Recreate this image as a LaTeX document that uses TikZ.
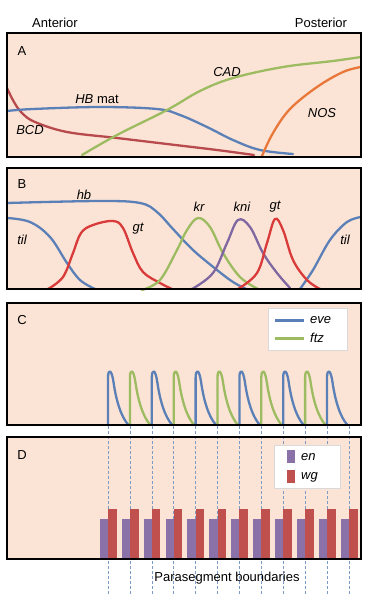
\documentclass[tikz,border=0pt]{standalone}
\usepackage{fontspec}
\setmainfont{Liberation Sans}
\usetikzlibrary{shadows}
\definecolor{peach}{HTML}{FBE4D5}
\definecolor{cblue}{HTML}{5B80B8}
\definecolor{cgreen}{HTML}{9DBB61}
\definecolor{cred}{HTML}{D93A3A}
\definecolor{cdred}{HTML}{B84A4D}
\definecolor{cpurple}{HTML}{7F67A2}
\definecolor{corange}{HTML}{E9773A}
\definecolor{barpurple}{HTML}{8A71A8}
\definecolor{barred}{HTML}{C0504D}
\tikzset{
  panel/.style={draw=black, line width=2pt},
  curve/.style={line width=2.3pt, line cap=round},
  lbl/.style={font=\fontsize{13}{15}\selectfont\itshape, inner sep=0pt},
  plbl/.style={font=\fontsize{13}{15}\selectfont, inner sep=0pt},
  leg/.style={fill=white, draw=white!85!black, line width=0.3pt, drop shadow={shadow xshift=1pt, shadow yshift=-1pt, opacity=0.3}},
  bnd/.style={cblue!80!white, line width=0.6pt, dash pattern=on 3pt off 2pt},
}
\begin{document}
\begin{tikzpicture}[x=1pt, y=-1pt]
\useasboundingbox (0,0) rectangle (370,600);
\fill[white] (0,0) rectangle (370,600);
% titles
\node[plbl] (ant) at (55,23) {Anterior};
\node[plbl] (post) at (321,23) {Posterior};

% ---------- Panel A
\fill[peach] (7,33) rectangle (361,157);
\draw[curve, cdred] plot[smooth, tension=0.6] coordinates {(7,88) (14,102) (22,113) (35,122) (67,132) (117,138) (167,144) (217,150) (254,155)};
\draw[curve, cblue] plot[smooth, tension=0.6] coordinates {(7,111) (33,109) (100,107) (157,109) (180,115) (207,127) (233,140) (260,150) (293,154)};
\draw[curve, cgreen] plot[smooth, tension=0.6] coordinates {(82,155) (117,135) (167,110) (200,91) (233,78) (283,67) (333,61) (361,57)};
\draw[curve, corange] plot[smooth, tension=0.6] coordinates {(262,156) (273,133) (290,109) (317,87) (343,72) (361,67)};
\node[plbl] (la) at (22,51) {A};
\node[lbl] (cad) at (227,72) {CAD};
\node[plbl] (hbm) at (97,99) {\textit{HB} mat};
\node[lbl] (bcd) at (30,130) {BCD};
\node[lbl] (nos) at (322,113) {NOS};
\draw[panel] (7,33) rectangle (361,157);

% ---------- Panel B
\fill[peach] (7,168) rectangle (361,289);
\draw[curve, cblue] plot[smooth, tension=0.6] coordinates {(7,203) (100,201) (140,203) (157,212) (173,229) (193,250) (217,270) (233,282) (246,289)};
\draw[curve, cblue] plot[smooth, tension=0.6] coordinates {(7,218) (30,222) (50,237) (67,263) (80,280) (95,289)};
\draw[curve, cblue] plot[smooth, tension=0.6] coordinates {(300,289) (313,270) (330,240) (347,222) (361,217)};
\draw[curve, cred] plot[smooth, tension=0.6] coordinates {(48,289) (63,277) (73,253) (81,233) (93,225) (113,221) (123,228) (133,253) (143,272) (160,283) (172,289)};
\draw[curve, cgreen] plot[smooth, tension=0.6] coordinates {(142,290) (160,280) (177,250) (187,230) (198,218) (210,227) (223,253) (240,277) (258,289)};
\draw[curve, cpurple] plot[smooth, tension=0.6] coordinates {(192,289) (213,273) (227,243) (238,220) (250,227) (263,253) (277,273) (290,288)};
\draw[curve, cred] plot[smooth, tension=0.6] coordinates {(238,289) (257,273) (267,243) (275,219) (283,230) (293,260) (307,280) (320,289)};
\node[plbl] (lb) at (22,184) {B};
\node[lbl] (hb) at (84,195) {hb};
\node[lbl] (kr) at (199,207) {kr};
\node[lbl] (kni) at (242,207) {kni};
\node[lbl] (gt2) at (275,207) {gt};
\node[lbl] (gt1) at (138,229) {gt};
\node[lbl] (til1) at (22,240) {til};
\node[lbl] (til2) at (345,240) {til};
\draw[panel] (7,168) rectangle (361,289);

% ---------- Panel D background first (dashed lines cross it)
\fill[peach] (7,437) rectangle (361,559);
% boundaries
\foreach \i in {0,...,11} {
  \pgfmathsetmacro{\xx}{108+21.9*\i}
  \draw[bnd] (\xx,426) -- (\xx,595);
}
% bars
\foreach \i in {0,...,11} {
  \pgfmathsetmacro{\xx}{108+21.9*\i}
  \fill[barpurple] (\xx-8.2,519) rectangle (\xx,559);
  \fill[barred] (\xx,509) rectangle (\xx+8.6,559);
}
\node[plbl] (ld) at (22,455) {D};
\node[leg, minimum width=66pt, minimum height=43pt] (legd) at (307,466.5) {};
\fill[barpurple] (287,450) rectangle (295,463);
\fill[barred] (287,470) rectangle (295,483);
\node[lbl, anchor=west] (en) at (301,457) {en};
\node[lbl, anchor=west] (wg) at (301,477) {wg};
\draw[panel] (7,437) rectangle (361,559);
\node[plbl] (pb) at (227,578) {Parasegment boundaries};

% ---------- Panel C
\fill[peach] (7,303) rectangle (361,425);
\foreach \i in {0,...,10} {
  \pgfmathsetmacro{\xx}{108+21.9*\i}
  \pgfmathtruncatemacro{\odd}{mod(\i,2)}
  \ifnum\odd=0 \def\pc{cblue}\else\def\pc{cgreen}\fi
  \draw[curve, \pc, line join=round] (\xx,425) -- (\xx,378)
     .. controls (\xx,368.5) and (\xx+3.5,368.5) .. (\xx+5.5,382)
     .. controls (\xx+8,400) and (\xx+13,417) .. (\xx+20.5,425);
}
\node[plbl] (lc) at (22,320) {C};
\node[leg, minimum width=79pt, minimum height=42pt] (legc) at (307.5,329) {};
\draw[line width=3pt, cblue] (275,320) -- (304,320);
\draw[line width=3pt, cgreen] (275,338) -- (304,338);
\node[lbl, anchor=west] (eve) at (310,320) {eve};
\node[lbl, anchor=west] (ftz) at (310,338) {ftz};
\draw[panel] (7,303) rectangle (361,425);
\end{tikzpicture}
\end{document}
